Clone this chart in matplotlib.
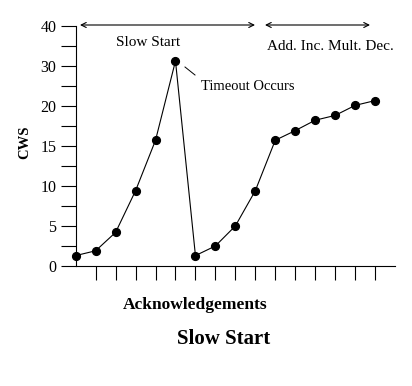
import numpy as np
import matplotlib
matplotlib.use("Agg")
import matplotlib.pyplot as plt
from matplotlib.lines import Line2D

# ---- data ----
acks = list(range(16))
cws = [1.3, 1.9, 4.2, 9.4, 15.7, 31.2, 1.3, 2.5, 5.0, 9.4, 15.7, 16.9, 18.2, 18.8, 20.1, 21.3]
y_major = [0, 5, 10, 15, 20, 30, 40]
y_minor = [2.5, 7.5, 12.5, 17.5, 25, 35]
y_labels = ["0", "5", "10", "15", "20", "30", "40"]
x_ticks = list(range(1, 16))

W, H = 412, 386
plt.rcParams['font.family'] = ['Liberation Serif', 'DejaVu Serif']
fig = plt.figure(figsize=(W / 100, H / 100), dpi=100)

def fx(px):
    return px / W

def fy(py):
    return 1 - py / H

ax = fig.add_axes([fx(75.7), fy(266), fx(395) - fx(75.7), fy(25.7) - fy(266)])

pos = np.arange(len(y_major), dtype=float)
yv = np.array(y_major, dtype=float)
fwd = lambda v: np.interp(v, yv, pos)
inv = lambda p: np.interp(p, pos, yv)
ax.set_yscale('function', functions=(fwd, inv))

ax.plot(acks, cws, color='black', lw=0.8, marker='o', ms=5.6,
        mfc='black', mec='black', clip_on=False)

ax.set_xlim(0, 16)
ax.set_ylim(0, 40)
ax.set_xticks(x_ticks)
ax.set_xticklabels([])
ax.set_yticks(y_major)
ax.set_yticklabels(y_labels)
ax.set_yticks(y_minor, minor=True)
ax.tick_params(axis='x', direction='out', length=10, width=0.8, color='black')
ax.tick_params(axis='y', which='both', direction='out', length=11, width=0.8,
               color='black', labelsize=11.5, pad=3)
ax.tick_params(axis='x', which='minor', length=0)
for s in ['top', 'right']:
    ax.spines[s].set_visible(False)
for s in ['left', 'bottom']:
    ax.spines[s].set_linewidth(0.8)

# axis labels and title
fig.text(fx(25), fy(142), "CWS", rotation=90, ha='center', va='center',
         fontsize=10.5, fontweight='bold')
fig.text(fx(195), fy(305), "Acknowledgements", ha='center', va='center',
         fontsize=12.5, fontweight='bold')
fig.text(fx(224), fy(339), "Slow Start", ha='center', va='center',
         fontsize=15, fontweight='bold')

# phase arrows
arrow_kw = dict(arrowstyle='<->', color='black', lw=0.8,
                shrinkA=0, shrinkB=0, mutation_scale=9)
fig.add_artist(matplotlib.patches.FancyArrowPatch(
    (fx(80), fy(25)), (fx(255), fy(25)), transform=fig.transFigure, **arrow_kw))
fig.add_artist(matplotlib.patches.FancyArrowPatch(
    (fx(265), fy(25)), (fx(370), fy(25)), transform=fig.transFigure, **arrow_kw))

fig.text(fx(148), fy(42), "Slow Start", ha='center', va='center', fontsize=11)
fig.text(fx(330), fy(47), "Add. Inc. Mult. Dec.", ha='center', va='center', fontsize=11)
fig.text(fx(248), fy(87), "Timeout Occurs", ha='center', va='center', fontsize=10.5)
fig.add_artist(Line2D([fx(185), fx(195)], [fy(67), fy(75)], color='black',
                      lw=0.7, transform=fig.transFigure))

fig.savefig("out.png", dpi=100)
